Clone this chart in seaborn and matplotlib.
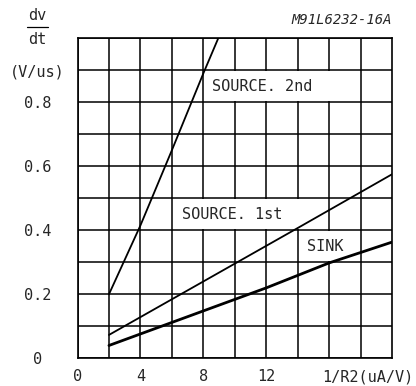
import numpy as np
import pandas as pd
import seaborn as sns
import matplotlib.pyplot as plt
from matplotlib.patches import Rectangle
from matplotlib.lines import Line2D

# curves (x = 1/R2 in uA/V, y = dv/dt in V/us)
x_source2 = [2, 4, 6, 8, 8.95]
y_source2 = [0.2, 0.415, 0.65, 0.89, 1.0]
x_source1 = [2, 8, 14, 20]
y_source1 = [0.073, 0.24, 0.407, 0.575]
x_sink = [2, 12, 16, 20]
y_sink = [0.04, 0.22, 0.298, 0.363]

x_ticks = [0, 4, 8, 12]
x_minor = [2, 6, 10, 14, 16, 18]
y_ticks = [0, 0.2, 0.4, 0.6, 0.8, 0.9]
y_ticklabels = ['0', '0.2', '0.4', '0.6', '0.8', '(V/us)']
y_minor = [0.1, 0.3, 0.5, 0.7, 1.0]

sns.set_style('white')
plt.rcParams['font.family'] = ['DejaVu Sans Mono', 'DejaVu Sans']

fig = plt.figure(figsize=(4.16, 3.86), dpi=100)
ax = fig.add_axes([0.1863, 0.0718, 0.7560, 0.8290])

# white label boxes sit above the grid but below the curves
boxes = [(8, 0.8, 9.9, 0.1), (6, 0.4, 8.6, 0.1), (14, 0.3, 3.5, 0.1)]
for bx, by, bw, bh in boxes:
    ax.add_patch(Rectangle((bx + 0.08, by + 0.003), bw - 0.16, bh - 0.006,
                           facecolor='white', edgecolor='none', zorder=2))

sns.lineplot(x=x_source2, y=y_source2, ax=ax, color='black', lw=1.3, zorder=3)
sns.lineplot(x=x_source1, y=y_source1, ax=ax, color='black', lw=1.3, zorder=3)
sns.lineplot(x=x_sink, y=y_sink, ax=ax, color='black', lw=2.0, zorder=3)

ax.text(8.55, 0.85, 'SOURCE. 2nd', fontsize=11, va='center', ha='left', zorder=4)
ax.text(6.65, 0.45, 'SOURCE. 1st', fontsize=11, va='center', ha='left', zorder=4)
ax.text(14.6, 0.35, 'SINK', fontsize=11, va='center', ha='left', zorder=4)

ax.set_xlim(0, 20)
ax.set_ylim(0, 1.0)
ax.set_xticks(x_ticks)
ax.set_xticklabels([str(v) for v in x_ticks])
ax.set_xticks(x_minor, minor=True)
ax.set_yticks(y_ticks)
ax.set_yticklabels(y_ticklabels, ha='center')
ax.set_yticks(y_minor, minor=True)
ax.tick_params(axis='both', which='both', length=0, labelsize=11)
ax.tick_params(axis='y', pad=29)
ax.tick_params(axis='x', pad=8)
ax.grid(True, which='both', color='black', lw=1.1, zorder=1)
ax.set_axisbelow(True)
for s in ax.spines.values():
    s.set_color('black')
    s.set_linewidth(1.2)
ax.set_xlabel('')
ax.set_ylabel('')

fig.text(413 / 416, 1 - 377 / 386, '1/R2(uA/V)', fontsize=11,
         ha='right', va='center')
ax.text(1.0, 1.035, 'M91L6232-16A', transform=ax.transAxes, fontsize=10,
        ha='right', va='bottom', style='italic')

# dv/dt fraction for the y axis caption
fig.text(37.5 / 416, 1 - 16 / 386, 'dv', fontsize=11, ha='center', va='center')
fig.text(37.5 / 416, 1 - 39 / 386, 'dt', fontsize=11, ha='center', va='center')
fig.add_artist(Line2D([27 / 416, 48 / 416], [1 - 27 / 386, 1 - 27 / 386],
                      color='black', lw=0.9))

fig.savefig('out.png', dpi=100)
